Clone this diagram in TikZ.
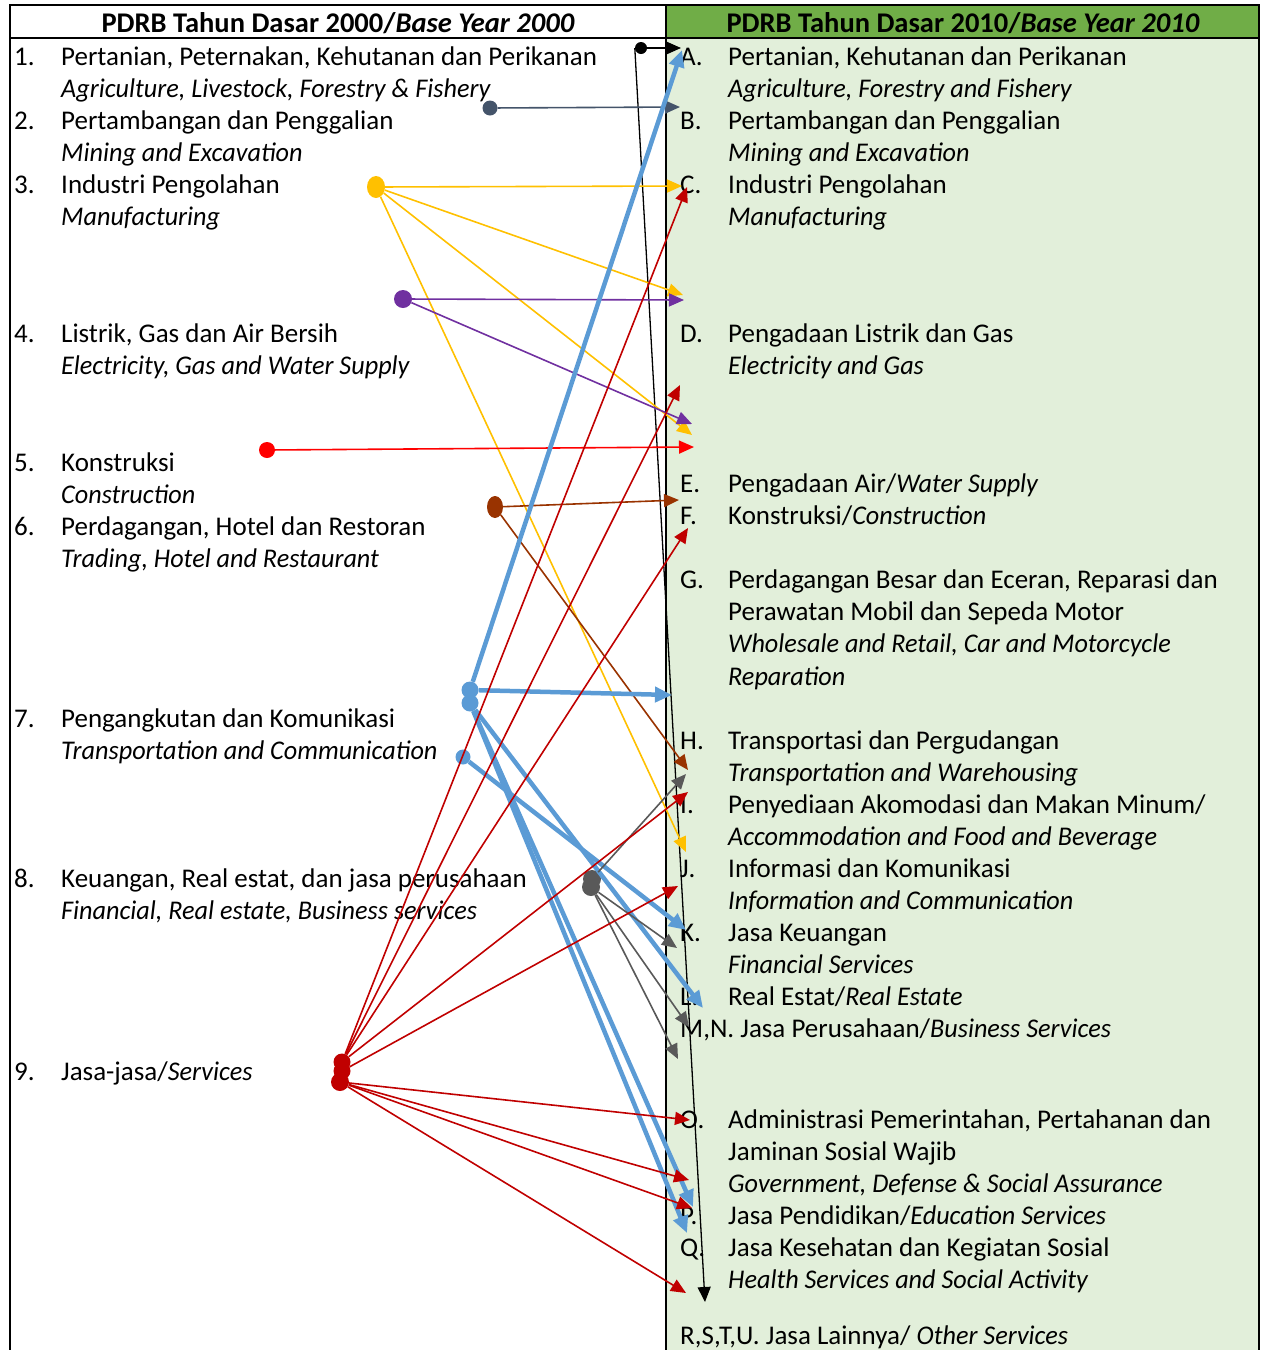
\documentclass[tikz,border=0pt]{standalone}
\usepackage{fontspec}
\setmainfont{Carlito}[ItalicFeatures={FakeStretch=0.97}]
\usepackage{xcolor}
\usepackage{tikz}
\usetikzlibrary{shapes.geometric}
\usetikzlibrary{arrows.meta}
\definecolor{headgreen}{HTML}{70AD47}
\definecolor{lightgreen}{HTML}{E2EFDA}
\definecolor{slate}{HTML}{44546A}
\definecolor{amber}{HTML}{FFC000}
\definecolor{violetv1}{HTML}{7030A0}
\definecolor{brightred}{HTML}{FF0000}
\definecolor{rust}{HTML}{993300}
\definecolor{skyblue}{HTML}{5B9BD5}
\definecolor{darkgrey}{HTML}{595959}
\definecolor{darkred}{HTML}{C00000}
\tikzset{
itemtextv1/.style={anchor=base west, inner sep=0pt, font=\fontsize{27}{32}\selectfont},
headtextv1/.style={anchor=base, inner sep=0pt, font=\fontsize{28.5}{32}\selectfont\bfseries},
sourcedotv1/.style={circle, draw=none, inner sep=0pt, minimum size= 15pt},
sourceovalv1/.style={ellipse, draw=none, inner sep=0pt, minimum width= 18pt, minimum height = 22pt},
linkv1/.style={line width=1.6pt, -{Triangle[length=15pt,width=13pt]}},
linkv2/.style={line width=4.5pt, -{Triangle[length=17pt,width=15pt]}},
framev1/.style={line width=2pt, black},
}

\begin{document}
\begin{tikzpicture}[x=1pt,y=-1pt]
\useasboundingbox (0,0) rectangle (1261,1350);
% table
\fill[lightgreen] (666,38) rectangle (1259,1350);
\fill[headgreen] (666,5) rectangle (1259,38);
\draw[framev1] (10,1350) -- (10,5) -- (1259,5) -- (1259,1350);
\draw[framev1] (10,38) -- (1259,38);
\draw[framev1] (666,5) -- (666,1350);
\node[headtextv1] at (338,32) (headold) {PDRB Tahun Dasar 2000/\textit{Base Year 2000}};
\node[headtextv1] at (963,32) (headnew) {PDRB Tahun Dasar 2010/\textit{Base Year 2010}};

% base year 2000
\node[itemtextv1] at (14,65) (num1) {1.};
\node[itemtextv1] at (61,65) (old1) {Pertanian, Peternakan, Kehutanan dan Perikanan};
\node[itemtextv1] at (61,97) (old1en) {\itshape Agriculture, Livestock, Forestry \& Fishery};
\node[itemtextv1] at (14,129) (num2) {2.};
\node[itemtextv1] at (61,129) (old2) {Pertambangan dan Penggalian};
\node[itemtextv1] at (61,161) (old2en) {\itshape Mining and Excavation};
\node[itemtextv1] at (14,193) (num3) {3.};
\node[itemtextv1] at (61,193) (old3) {Industri Pengolahan};
\node[itemtextv1] at (61,225) (old3en) {\itshape Manufacturing};
\node[itemtextv1] at (14,342) (num4) {4.};
\node[itemtextv1] at (61,342) (old4) {Listrik, Gas dan Air Bersih};
\node[itemtextv1] at (61,374) (old4en) {\itshape Electricity, Gas and Water Supply};
\node[itemtextv1] at (14,471) (num5) {5.};
\node[itemtextv1] at (61,471) (old5) {Konstruksi};
\node[itemtextv1] at (61,503) (old5en) {\itshape Construction};
\node[itemtextv1] at (14,535) (num6) {6.};
\node[itemtextv1] at (61,535) (old6) {Perdagangan, Hotel dan Restoran};
\node[itemtextv1] at (61,567) (old6en) {\itshape Trading, Hotel and Restaurant};
\node[itemtextv1] at (14,727) (num7) {7.};
\node[itemtextv1] at (61,727) (old7) {Pengangkutan dan Komunikasi};
\node[itemtextv1] at (61,759) (old7en) {\itshape Transportation and Communication};
\node[itemtextv1] at (14,887) (num8) {8.};
\node[itemtextv1] at (61,887) (old8) {Keuangan, Real estat, dan jasa perusahaan};
\node[itemtextv1] at (61,919) (old8en) {\itshape Financial, Real estate, Business services};
\node[itemtextv1] at (14,1080) (num9) {9.};
\node[itemtextv1] at (61,1080) (old9) {Jasa-jasa/\textit{Services}};

% base year 2010
\node[itemtextv1] at (680,65) (letA) {A.};
\node[itemtextv1] at (728,65) (newA) {Pertanian, Kehutanan dan Perikanan};
\node[itemtextv1] at (728,97) (newAen) {\itshape Agriculture, Forestry and Fishery};
\node[itemtextv1] at (680,129) (letB) {B.};
\node[itemtextv1] at (728,129) (newB) {Pertambangan dan Penggalian};
\node[itemtextv1] at (728,161) (newBen) {\itshape Mining and Excavation};
\node[itemtextv1] at (680,193) (letC) {C.};
\node[itemtextv1] at (728,193) (newC) {Industri Pengolahan};
\node[itemtextv1] at (728,225) (newCen) {\itshape Manufacturing};
\node[itemtextv1] at (680,342) (letD) {D.};
\node[itemtextv1] at (728,342) (newD) {Pengadaan Listrik dan Gas};
\node[itemtextv1] at (728,374) (newDen) {\itshape Electricity and Gas};
\node[itemtextv1] at (680,492) (letE) {E.};
\node[itemtextv1] at (728,492) (newE) {Pengadaan Air/\textit{Water Supply}};
\node[itemtextv1] at (680,524) (letF) {F.};
\node[itemtextv1] at (728,524) (newF) {Konstruksi/\textit{Construction}};
\node[itemtextv1] at (680,588) (letG) {G.};
\node[itemtextv1] at (728,588) (newG) {Perdagangan Besar dan Eceran, Reparasi dan};
\node[itemtextv1] at (728,620) (newGb) {Perawatan Mobil dan Sepeda Motor};
\node[itemtextv1] at (728,652) (newGen) {\itshape Wholesale and Retail, Car and Motorcycle};
\node[itemtextv1] at (728,685) (newGenb) {\itshape Reparation};
\node[itemtextv1] at (680,749) (letH) {H.};
\node[itemtextv1] at (728,749) (newH) {Transportasi dan Pergudangan};
\node[itemtextv1] at (728,781) (newHen) {\itshape Transportation and Warehousing};
\node[itemtextv1] at (680,813) (letI) {I.};
\node[itemtextv1] at (728,813) (newI) {Penyediaan Akomodasi dan Makan Minum/};
\node[itemtextv1] at (728,845) (newIen) {\itshape Accommodation and Food and Beverage};
\node[itemtextv1] at (680,877) (letJ) {J.};
\node[itemtextv1] at (728,877) (newJ) {Informasi dan Komunikasi};
\node[itemtextv1] at (728,909) (newJen) {\itshape Information and Communication};
\node[itemtextv1] at (680,941) (letK) {K.};
\node[itemtextv1] at (728,941) (newK) {Jasa Keuangan};
\node[itemtextv1] at (728,973) (newKen) {\itshape Financial Services};
\node[itemtextv1] at (680,1005) (letL) {L.};
\node[itemtextv1] at (728,1005) (newL) {Real Estat/\textit{Real Estate}};
\node[itemtextv1] at (680,1037) (newMN) {M,N. Jasa Perusahaan/\textit{Business Services}};
\node[itemtextv1] at (680,1128) (letO) {O.};
\node[itemtextv1] at (728,1128) (newO) {Administrasi Pemerintahan, Pertahanan dan};
\node[itemtextv1] at (728,1160) (newOb) {Jaminan Sosial Wajib};
\node[itemtextv1] at (728,1192) (newOen) {\itshape Government, Defense \& Social Assurance};
\node[itemtextv1] at (680,1224) (letP) {P.};
\node[itemtextv1] at (728,1224) (newP) {Jasa Pendidikan/\textit{Education Services}};
\node[itemtextv1] at (680,1256) (letQ) {Q.};
\node[itemtextv1] at (728,1256) (newQ) {Jasa Kesehatan dan Kegiatan Sosial};
\node[itemtextv1] at (728,1288) (newQen) {\itshape Health Services and Social Activity};
\node[itemtextv1] at (680,1344) (newRSTU) {R,S,T,U. Jasa Lainnya/ \textit{Other Services}};

% source dots
\node[sourcedotv1, fill=black, minimum size= 12pt] at (641,48) (dotagri) {};
\node[sourcedotv1, fill=slate, minimum size= 15pt] at (490,108) (dotmining) {};
\node[sourceovalv1, fill=amber] at (376,187) (dotmanuf) {};
\node[sourcedotv1, fill=violetv1, minimum size= 18pt] at (403,299) (dotelec) {};
\node[sourcedotv1, fill=brightred, minimum size= 16pt] at (267,450) (dotconstr) {};
\node[sourceovalv1, fill=rust, minimum width= 16pt] at (495,507) (dottrade) {};
\node[sourcedotv1, fill=skyblue, minimum size= 17pt] at (470,690) (dottransA) {};
\node[sourcedotv1, fill=skyblue, minimum size= 17pt] at (470,703) (dottransB) {};
\node[sourcedotv1, fill=skyblue, minimum size= 15pt] at (463,757) (dottransC) {};
\node[sourcedotv1, fill=darkgrey, minimum size= 18pt] at (592,879) (dotfinA) {};
\node[sourcedotv1, fill=darkgrey, minimum size= 18pt] at (591,887) (dotfinB) {};
\node[sourcedotv1, fill=darkred, minimum size= 17pt] at (342,1062) (dotservA) {};
\node[sourcedotv1, fill=darkred, minimum size= 17pt] at (342,1071) (dotservB) {};
\node[sourcedotv1, fill=darkred, minimum size= 18pt] at (340,1082) (dotservC) {};

% arrow tips
\coordinate (tipA) at (681,48);
\coordinate (tipAb) at (682,50);
\coordinate (tipB) at (680,107);
\coordinate (tipC) at (682,186);
\coordinate (tipCb) at (687,187);
\coordinate (tipCD) at (683,295);
\coordinate (tipCDb) at (684,300);
\coordinate (tipD) at (680,385);
\coordinate (tipDE) at (692,424);
\coordinate (tipDEb) at (692,435);
\coordinate (tipDEc) at (694,447);
\coordinate (tipE) at (679,500);
\coordinate (tipF) at (688,528);
\coordinate (tipG) at (672,695);
\coordinate (tipH) at (688,770);
\coordinate (tipHb) at (686,774);
\coordinate (tipI) at (688,792);
\coordinate (tipIJ) at (686,852);
\coordinate (tipJ) at (678,886);
\coordinate (tipK) at (686,930);
\coordinate (tipKb) at (677,948);
\coordinate (tipL) at (703,1008);
\coordinate (tipMN) at (689,1027);
\coordinate (tipMNb) at (678,1059);
\coordinate (tipO) at (690,1120);
\coordinate (tipOb) at (689,1180);
\coordinate (tipP) at (692,1208);
\coordinate (tipPb) at (693,1207);
\coordinate (tipPc) at (687,1233);
\coordinate (tipQ) at (686,1293);
\coordinate (tipRSTU) at (705,1302);

% links
\draw[linkv1, black, line width=1.3pt] (dotagri) -- (tipA);
\draw[linkv1, black, line width=1.3pt] (dotagri.west) -- (tipRSTU);
\draw[linkv1, slate] (dotmining) -- (tipB);
\draw[linkv1, amber] (dotmanuf) -- (tipC);
\draw[linkv1, amber] (dotmanuf) -- (tipCD);
\draw[linkv1, amber] (dotmanuf) -- (tipDEb);
\draw[linkv1, amber] (dotmanuf) -- (tipIJ);
\draw[linkv1, violetv1] (dotelec) -- (tipCDb);
\draw[linkv1, violetv1] (dotelec) -- (tipDE);
\draw[linkv1, brightred] (dotconstr) -- (tipDEc);
\draw[linkv1, rust] (dottrade) -- (tipE);
\draw[linkv1, rust] (dottrade) -- (tipH);
\draw[linkv2, skyblue] (dottransA) -- (tipAb);
\draw[linkv2, skyblue] (dottransA) -- (tipG);
\draw[linkv2, skyblue] (dottransB) -- (tipL);
\draw[linkv2, skyblue] (dottransB) -- (tipPb);
\draw[linkv2, skyblue] (dottransB) -- (tipPc);
\draw[linkv2, skyblue] (dottransC) -- (tipK);
\draw[linkv1, darkgrey] (dotfinA) -- (tipHb);
\draw[linkv1, darkgrey] (dotfinB) -- (tipKb);
\draw[linkv1, darkgrey] (dotfinB) -- (tipMN);
\draw[linkv1, darkgrey] (dotfinB) -- (tipMNb);
\draw[linkv1, darkred] (dotservA) -- (tipCb);
\draw[linkv1, darkred] (dotservA) -- (tipD);
\draw[linkv1, darkred] (dotservA) -- (tipF);
\draw[linkv1, darkred] (dotservA) -- (tipI);
\draw[linkv1, darkred] (dotservB) -- (tipJ);
\draw[linkv1, darkred] (dotservC) -- (tipO);
\draw[linkv1, darkred] (dotservC) -- (tipOb);
\draw[linkv1, darkred] (dotservC) -- (tipP);
\draw[linkv1, darkred] (dotservC) -- (tipQ);
\end{tikzpicture}
\end{document}
